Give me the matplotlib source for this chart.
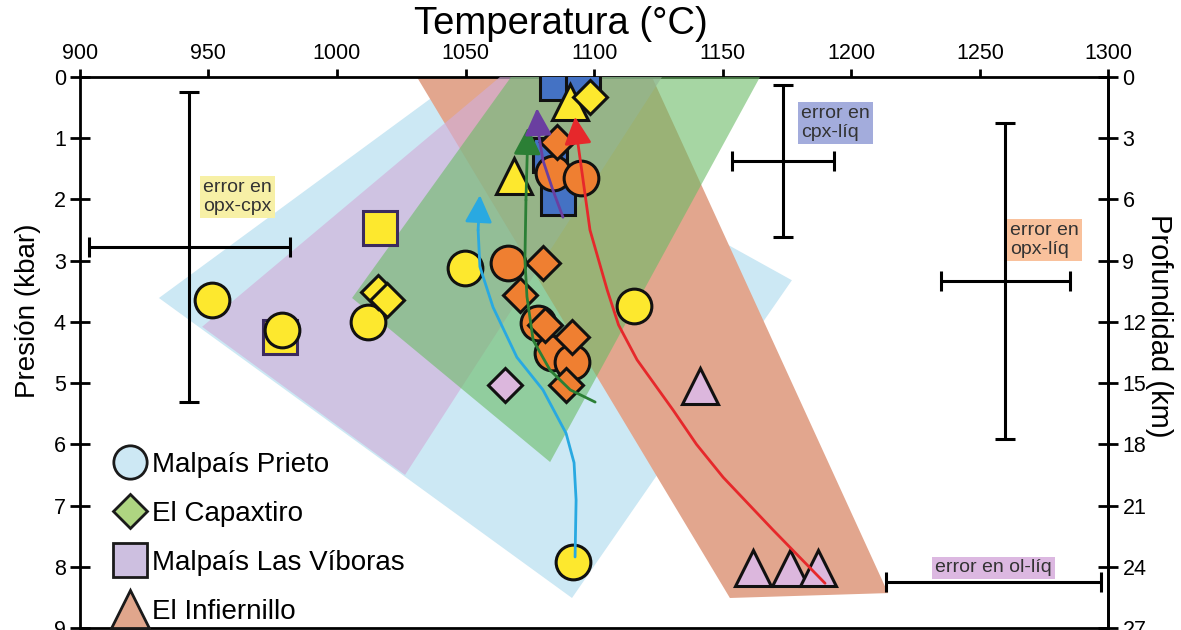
import matplotlib
matplotlib.use("Agg")
import matplotlib.pyplot as plt
from matplotlib.lines import Line2D
from matplotlib.patches import Polygon

plt.rcParams['font.family'] = ['Liberation Sans', 'DejaVu Sans']

# ---------------- data (Temperature °C, Pressure kbar) ----------------
# field polygons
poly_prieto_T = [930.8, 1042.0, 1176.9, 1091.4]
poly_prieto_P = [3.61, 0.18, 3.32, 8.51]
poly_viboras_T = [947.6, 1026.5, 1126.4, 1063.4]
poly_viboras_P = [4.08, 6.50, 0.0, 0.0]
poly_capax_T = [1005.9, 1082.9, 1164.5, 1067.7]
poly_capax_P = [3.61, 6.29, 0.0, 0.0]
poly_infi_T = [1031.1, 1122.5, 1214.3, 1152.8]
poly_infi_P = [0.0, 0.0, 8.43, 8.51]

# markers: shape = volcano, fill colour = thermometer
yel_circ_T = [951.4, 978.7, 1012.1, 1049.8, 1115.5, 1091.8]
yel_circ_P = [3.64, 4.13, 4.00, 3.12, 3.74, 7.92]
org_circ_T = [1084.0, 1094.9, 1066.5, 1078.2, 1083.6, 1091.4]
org_circ_P = [1.57, 1.65, 3.04, 4.02, 4.51, 4.66]
blu_sq_T = [1085.6, 1095.7, 1082.9, 1086.0]
blu_sq_P = [0.10, 0.10, 1.27, 1.98]
yel_sq_T = [1016.8, 977.9]
yel_sq_P = [2.47, 4.25]
yel_dia_T = [1098.4, 1016.0, 1019.5]
yel_dia_P = [0.33, 3.51, 3.64]
org_dia_T = [1085.6, 1080.2, 1071.2, 1080.9, 1091.4, 1089.1]
org_dia_P = [1.06, 3.04, 3.56, 4.05, 4.25, 5.03]
pnk_dia_T = [1065.4]
pnk_dia_P = [5.03]
yel_tri_T = [1068.8, 1090.6]
yel_tri_P = [1.62, 0.41]
pnk_tri_T = [1141.2, 1161.8, 1176.2, 1187.1]
pnk_tri_P = [5.05, 8.02, 8.02, 8.02]

# ascent paths (last point = arrow tip)
path_blue_T = [1092.6, 1093.0, 1092.2, 1089.1, 1080.1, 1070.0, 1060.7, 1055.6, 1054.9, 1055.6]
path_blue_P = [7.84, 6.91, 6.30, 5.82, 5.11, 4.58, 3.76, 3.10, 2.50, 1.93]
path_green_T = [1100.4, 1090.7, 1082.9, 1076.3, 1073.9, 1073.1, 1073.5, 1074.3]
path_green_P = [5.31, 5.11, 4.79, 4.30, 3.59, 2.99, 2.01, 0.82]
path_purple_T = [1087.9, 1084.0, 1080.1, 1078.2, 1077.8]
path_purple_P = [2.29, 1.85, 1.36, 0.87, 0.51]
path_red_T = [1189.8, 1169.6, 1150.2, 1139.8, 1130.7, 1116.7, 1109.5, 1105.1, 1098.4, 1095.7, 1093.7, 1092.6]
path_red_P = [8.27, 7.40, 6.54, 6.00, 5.44, 4.62, 4.05, 3.48, 2.50, 1.68, 1.08, 0.65]

# error crosses
err_labels = ["error en\nopx-cpx", "error en\ncpx-líq", "error en\nopx-líq", "error en ol-líq"]
err_T = [942.6, 1173.4, 1259.8, 1255.3]
err_P = [2.78, 1.37, 3.33, 8.25]
err_dT = [39.0, 19.8, 25.1, 41.8]
err_dP = [2.53, 1.24, 2.58, 0.0]
err_lab_T = [947.9, 1180.5, 1261.7, 1232.5]
err_lab_P = [1.96, 0.75, 2.66, 8.02]
err_lab_bg = ['#f7f0a6', '#a3acdc', '#f9c19c', '#dcb8e1']

legend_labels = ["Malpaís Prieto", "El Capaxtiro", "Malpaís Las Víboras", "El Infiernillo"]
x_ticks = [900, 950, 1000, 1050, 1100, 1150, 1200, 1250, 1300]
p_ticks = [0, 1, 2, 3, 4, 5, 6, 7, 8, 9]
km_ticks = [0, 3, 6, 9, 12, 15, 18, 21, 24, 27]

# ---------------- figure ----------------
fig = plt.figure(figsize=(11.81, 6.30), dpi=100)
ax = fig.add_axes([0.0675, 0.0032, 0.8711, 0.8746])
ax.set_xlim(900, 1300)
ax.set_ylim(9, 0)

# polygons
ax.add_patch(Polygon(list(zip(poly_prieto_T, poly_prieto_P)), closed=True,
                     fc='#cce8f4', ec='none', zorder=1))
ax.add_patch(Polygon(list(zip(poly_infi_T, poly_infi_P)), closed=True,
                     fc='#e2a68e', ec='none', zorder=2))
ax.add_patch(Polygon(list(zip(poly_viboras_T, poly_viboras_P)), closed=True,
                     fc='#d1aed9', alpha=0.64, ec='none', zorder=3))
ax.add_patch(Polygon(list(zip(poly_capax_T, poly_capax_P)), closed=True,
                     fc='#6bbb66', alpha=0.6, ec='none', zorder=4))

# error crosses
for t, p, dt, dp in zip(err_T, err_P, err_dT, err_dP):
    ax.errorbar([t], [p], xerr=[dt], yerr=[dp] if dp > 0 else None, fmt='none',
                ecolor='black', elinewidth=2.2, capsize=7, capthick=2.2, zorder=5)
for lab, t, p, bg in zip(err_labels, err_lab_T, err_lab_P, err_lab_bg):
    ax.text(t, p, lab, ha='left', va='center', fontsize=14, color='#333333',
            linespacing=1.2, zorder=5,
            bbox=dict(boxstyle='square,pad=0.15', fc=bg, ec='none'))

YEL = '#fde82e'
ORG = '#ef7f31'
BLU = '#4472c4'
PNK = '#dcb7dd'
EC = '#111111'
mk = dict(ls='none', mec=EC, mew=2.2)

ax.plot(blu_sq_T, blu_sq_P, marker='s', ms=24, mfc=BLU, zorder=6, **mk)
ax.plot(yel_sq_T, yel_sq_P, marker='s', ms=24, mfc=YEL, zorder=6,
        ls='none', mec='#3b2b5e', mew=2.2)
ax.plot(yel_tri_T, yel_tri_P, marker='^', ms=26, mfc=YEL, zorder=7, **mk)
ax.plot(pnk_tri_T, pnk_tri_P, marker='^', ms=26, mfc=PNK, zorder=7, **mk)
ax.plot(yel_circ_T, yel_circ_P, marker='o', ms=25, mfc=YEL, zorder=8, **mk)
ax.plot(org_circ_T, org_circ_P, marker='o', ms=25, mfc=ORG, zorder=8, **mk)
ax.plot(yel_dia_T, yel_dia_P, marker='D', ms=17, mfc=YEL, zorder=9, **mk)
ax.plot(org_dia_T, org_dia_P, marker='D', ms=17, mfc=ORG, zorder=9, **mk)
ax.plot(pnk_dia_T, pnk_dia_P, marker='D', ms=17, mfc=PNK, zorder=9, **mk)

# ascent paths with arrow heads
for xs, ys, c in [(path_blue_T, path_blue_P, '#29a9e1'),
                  (path_green_T, path_green_P, '#2b7f35'),
                  (path_purple_T, path_purple_P, '#6a3fa0'),
                  (path_red_T, path_red_P, '#e6282b')]:
    ax.plot(xs[:-1], ys[:-1], color=c, lw=2.0, zorder=10,
            solid_capstyle='round', solid_joinstyle='round')
    ax.annotate('', xy=(xs[-1], ys[-1]), xytext=(xs[-2], ys[-2]),
                arrowprops=dict(arrowstyle='-|>,head_length=0.6,head_width=0.3',
                                color=c, lw=2.0, mutation_scale=28,
                                shrinkA=0, shrinkB=0), zorder=10)

# axes styling
for s in ax.spines.values():
    s.set_linewidth(2.0)
ax.xaxis.tick_top()
ax.xaxis.set_label_position('top')
ax.set_xticks(x_ticks)
ax.set_yticks(p_ticks)
ax.tick_params(axis='x', direction='out', length=6, width=2, labelsize=15.5, pad=3)
ax.tick_params(axis='y', direction='inout', length=14, width=2, labelsize=15.5, pad=3)
ax.set_xlabel("Temperatura (°C)", fontsize=27.5)
ax.xaxis.set_label_coords(0.468, 1.078)
ax.set_ylabel("Presión (kbar)", fontsize=20)
ax.yaxis.set_label_coords(-0.038, 0.575)

sec = ax.secondary_yaxis('right', functions=(lambda p: p * 3.0, lambda d: d / 3.0))
sec.set_yticks(km_ticks)
sec.tick_params(direction='inout', length=14, width=2, labelsize=15.5, pad=3)
sec.spines['right'].set_linewidth(2.0)
sec.set_ylabel("Profundidad (km)", fontsize=21, rotation=270)
sec.yaxis.set_label_coords(1.0627, 0.548, transform=ax.transAxes)

# legend
handles = [
    Line2D([], [], ls='none', marker='o', ms=24, mfc='#cde8f4', mec='#1a1a1a', mew=2),
    Line2D([], [], ls='none', marker='D', ms=17, mfc='#aed581', mec='#1a1a1a', mew=2),
    Line2D([], [], ls='none', marker='s', ms=25, mfc='#cdbfe0', mec='#1a1a1a', mew=2),
    Line2D([], [], ls='none', marker='^', ms=27, mfc='#e0a68c', mec='#1a1a1a', mew=2),
]
leg = ax.legend(handles, legend_labels, loc='upper left', bbox_to_anchor=(0.035, 0.319),
                frameon=False, fontsize=20, handlelength=1.0, handletextpad=0.3,
                labelspacing=0.82, borderpad=0, borderaxespad=0)
leg.set_zorder(11)

fig.savefig("out.png", dpi=100)
